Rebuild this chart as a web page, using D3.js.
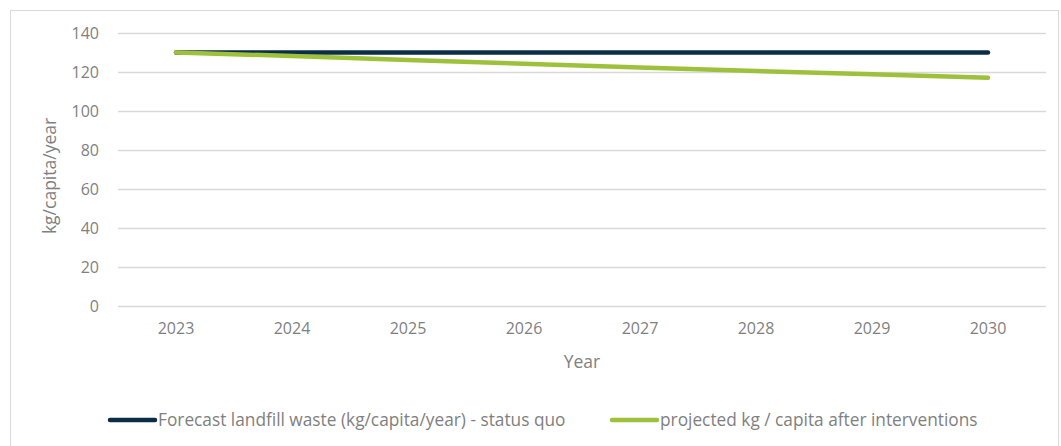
<!DOCTYPE html>
<html>
<head>
<meta charset="utf-8">
<script src="https://cdn.jsdelivr.net/npm/d3@7"></script>
<style>
  body { margin: 0; background: #fff; }
  text { font-family: "Open Sans", sans-serif; fill: #7f7f7f; }
</style>
</head>
<body>
<div id="chart"></div>
<script>
const years = ["2023", "2024", "2025", "2026", "2027", "2028", "2029", "2030"];
const statusQuo = [130, 130, 130, 130, 130, 130, 130, 130];
const afterInterventions = [130, 128.2, 126.2, 124.2, 122.3, 120.5, 118.8, 117.1];
const yTicks = [0, 20, 40, 60, 80, 100, 120, 140];
const seriesNames = ["Forecast landfill waste (kg/capita/year) - status quo", "projected kg / capita after interventions"];
const seriesColors = ["#0b2d45", "#9dc13b"];

const width = 1061;
const height = 446;

const svg = d3.select("#chart")
    .append("svg")
    .attr("width", width)
    .attr("height", height);

// chart area border
svg.append("rect")
    .attr("x", 10.5)
    .attr("y", 10.5)
    .attr("width", 1048)
    .attr("height", 440)
    .attr("fill", "none")
    .attr("stroke", "#d9d9d9");

const x = d3.scaleBand()
    .domain(years)
    .range([118, 1046]);

const y = d3.scaleLinear()
    .domain([0, 140])
    .range([306, 33]);

// gridlines
svg.selectAll(".grid")
    .data(yTicks)
    .enter().append("line")
    .attr("x1", 118)
    .attr("x2", 1046)
    .attr("y1", d => Math.round(y(d)) + 0.5)
    .attr("y2", d => Math.round(y(d)) + 0.5)
    .attr("stroke", "#d9d9d9")
    .attr("stroke-width", 1.5);

const yAxis = svg.append("g")
    .attr("transform", "translate(99,0)")
    .call(d3.axisLeft(y).tickValues(yTicks).tickSize(0).tickPadding(0));
yAxis.select(".domain").remove();
yAxis.selectAll("text").style("font-size", "16px").attr("dy", "0.35em");

const xAxis = svg.append("g")
    .attr("transform", "translate(0,323)")
    .call(d3.axisBottom(x).tickSize(0).tickPadding(0));
xAxis.select(".domain").remove();
xAxis.selectAll("text").style("font-size", "16px").attr("dy", "0.71em");

svg.append("text")
    .attr("x", 582)
    .attr("y", 362)
    .attr("dy", "0.35em")
    .attr("text-anchor", "middle")
    .style("font-size", "17.5px")
    .text("Year");

svg.append("text")
    .attr("transform", "translate(50,176) rotate(-90)")
    .attr("dy", "0.35em")
    .attr("text-anchor", "middle")
    .style("font-size", "17.5px")
    .text("kg/capita/year");

const line = d3.line()
    .x((d, i) => x(years[i]) + x.bandwidth() / 2)
    .y(d => y(d));

[statusQuo, afterInterventions].forEach((series, i) => {
    svg.append("path")
        .datum(series)
        .attr("d", line)
        .attr("fill", "none")
        .attr("stroke", seriesColors[i])
        .attr("stroke-width", 4.5)
        .attr("stroke-linecap", "round")
        .attr("stroke-linejoin", "round");
});

// legend
const legendX = [110, 612];
seriesNames.forEach((name, i) => {
    svg.append("line")
        .attr("x1", legendX[i])
        .attr("x2", legendX[i] + 45)
        .attr("y1", 420)
        .attr("y2", 420)
        .attr("stroke", seriesColors[i])
        .attr("stroke-width", 4.5)
        .attr("stroke-linecap", "round");

    svg.append("text")
        .attr("x", legendX[i] + 48)
        .attr("y", 420)
        .attr("dy", "0.35em")
        .style("font-size", "17.3px")
        .text(name);
});
</script>
</body>
</html>
